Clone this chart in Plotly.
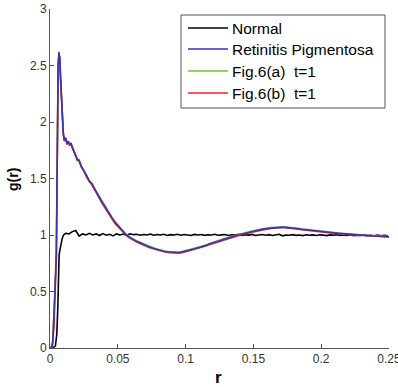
import plotly.graph_objects as go

# ---------------- data ----------------
series_names = ["Normal", "Retinitis Pigmentosa", "Fig.6(a)  t=1", "Fig.6(b)  t=1"]
series_colors = ["#000000", "#3333c8", "#66cc22", "#ff2020"]

x_ticks = [0, 0.05, 0.1, 0.15, 0.2, 0.25]
x_tick_labels = ["0", "0.05", "0.1", "0.15", "0.2", "0.25"]
y_ticks = [0, 0.5, 1, 1.5, 2, 2.5, 3]
y_tick_labels = ["0", "0.5", "1", "1.5", "2", "2.5", "3"]

normal_r = [0, 0.002, 0.004, 0.005, 0.0058, 0.0062, 0.0067, 0.0072, 0.008, 0.009, 0.010,
            0.0115, 0.014, 0.0165, 0.019, 0.0215, 0.024, 0.0265, 0.029, 0.0315, 0.034,
            0.0365, 0.039, 0.0415, 0.044, 0.0465, 0.049, 0.0515, 0.054, 0.0565, 0.059,
            0.0615, 0.064, 0.0665, 0.069, 0.0715, 0.074, 0.0765, 0.079, 0.0815, 0.084,
            0.0865, 0.089, 0.0915, 0.094, 0.0965, 0.099, 0.1015, 0.104, 0.1065, 0.109,
            0.1115, 0.114, 0.1165, 0.119, 0.1215, 0.124, 0.1265, 0.129, 0.1315, 0.134,
            0.1365, 0.139, 0.1415, 0.144, 0.1465, 0.149, 0.1515, 0.154, 0.1565, 0.159,
            0.1615, 0.164, 0.1665, 0.169, 0.1715, 0.174, 0.1765, 0.179, 0.1815, 0.184,
            0.1865, 0.189, 0.1915, 0.194, 0.1965, 0.199, 0.2015, 0.204, 0.2065, 0.209,
            0.2115, 0.214, 0.2165, 0.219, 0.2215, 0.224, 0.2265, 0.229, 0.2315, 0.234,
            0.2365, 0.239, 0.2415, 0.244, 0.2465, 0.249]
normal_g = [0, 0, 0.02, 0.12, 0.37, 0.65, 0.82, 0.86, 0.93, 0.97, 1.0,
            1.015, 1.01, 1.03, 1.04, 0.99, 1.01, 1.0, 1.015, 1.0, 1.01,
            0.995, 1.012, 0.998, 1.006, 0.992, 1.01, 1.0, 1.008, 0.997, 1.01,
            1.003, 1.006, 0.998, 1.004, 1.0, 1.008, 0.998, 1.004, 1.0, 1.006,
            0.996, 1.003, 1.0, 1.007, 0.998, 1.004, 1.001, 0.996, 1.005, 1.0,
            1.004, 0.997, 1.002, 1.0, 1.006, 0.998, 1.001, 1.004, 0.996, 1.002,
            1.0, 1.006, 0.997, 1.002, 0.999, 1.005, 0.996, 1.0, 1.004, 0.998,
            1.003, 0.996, 1.004, 1.006, 0.993, 1.0, 0.998, 1.003, 0.997, 1.0,
            0.995, 1.002, 0.998, 1.001, 0.996, 1.002, 0.999, 0.995, 1.001, 0.998,
            1.003, 0.996, 1.0, 0.997, 1.002, 0.995, 0.999, 0.996, 1.001, 0.995,
            0.998, 0.994, 0.999, 0.993, 0.997, 0.992]

rp_r = [0, 0.001, 0.002, 0.003, 0.0035, 0.004, 0.0047, 0.0052, 0.0056, 0.006,
        0.0066, 0.0072, 0.0078, 0.0085, 0.009, 0.0098, 0.0105, 0.0115, 0.0125, 0.0135,
        0.0145, 0.0155, 0.017, 0.0185, 0.02, 0.0215, 0.023, 0.025, 0.027, 0.029,
        0.031, 0.033, 0.0355, 0.038, 0.0405, 0.043, 0.0455, 0.048, 0.0505, 0.053,
        0.0555, 0.058, 0.0605, 0.063, 0.0655, 0.068, 0.0705, 0.073, 0.0755, 0.078,
        0.0805, 0.083, 0.0855, 0.088, 0.0905, 0.093, 0.0955, 0.098, 0.1005, 0.103,
        0.1055, 0.108, 0.1105, 0.113, 0.1155, 0.118, 0.1205, 0.123, 0.1255, 0.128,
        0.1305, 0.133, 0.1355, 0.138, 0.1405, 0.143, 0.1455, 0.148, 0.1505, 0.153,
        0.1555, 0.158, 0.1605, 0.163, 0.1655, 0.168, 0.1705, 0.173, 0.1755, 0.178,
        0.1805, 0.183, 0.1855, 0.188, 0.1905, 0.193, 0.1955, 0.198, 0.2005, 0.203,
        0.2055, 0.208, 0.2105, 0.213, 0.2155, 0.218, 0.2205, 0.223, 0.2255, 0.228,
        0.2305, 0.233, 0.2355, 0.238, 0.2405, 0.243, 0.2455, 0.248, 0.25]
rp_g = [0, 0.01, 0.05, 0.25, 0.45, 0.62, 0.85, 1.50, 2.15, 2.50,
        2.62, 2.56, 2.38, 2.20, 2.05, 1.90, 1.84, 1.86, 1.81, 1.83,
        1.80, 1.81, 1.76, 1.72, 1.67, 1.66, 1.61, 1.57, 1.52, 1.48,
        1.45, 1.40, 1.35, 1.30, 1.25, 1.20, 1.15, 1.11, 1.08, 1.04,
        1.01, 0.985, 0.965, 0.95, 0.935, 0.92, 0.91, 0.895, 0.885, 0.875,
        0.868, 0.858, 0.852, 0.848, 0.845, 0.846, 0.845, 0.85, 0.858, 0.866,
        0.874, 0.882, 0.89, 0.90, 0.91, 0.922, 0.932, 0.943, 0.953, 0.962,
        0.972, 0.98, 0.988, 0.997, 1.005, 1.013, 1.02, 1.028, 1.035, 1.042,
        1.048, 1.054, 1.058, 1.062, 1.066, 1.068, 1.069, 1.068, 1.066, 1.063,
        1.06, 1.056, 1.051, 1.047, 1.043, 1.039, 1.035, 1.031, 1.028, 1.025,
        1.022, 1.02, 1.017, 1.014, 1.011, 1.008, 1.005, 1.003, 1.0, 0.998,
        0.996, 0.994, 0.993, 0.991, 0.99, 0.989, 0.987, 0.986, 0.985]
fig6a_g = [0, 0.01, 0.06, 0.27, 0.47, 0.63, 0.86, 1.52, 2.16, 2.51,
           2.61, 2.55, 2.37, 2.21, 2.04, 1.91, 1.85, 1.85, 1.82, 1.82,
           1.81, 1.80, 1.77, 1.71, 1.68, 1.65, 1.62, 1.56, 1.53, 1.47,
           1.46, 1.41, 1.36, 1.30, 1.26, 1.20, 1.16, 1.12, 1.08, 1.045,
           1.015, 0.99, 0.97, 0.953, 0.94, 0.924, 0.914, 0.9, 0.89, 0.879,
           0.872, 0.862, 0.857, 0.852, 0.85, 0.85, 0.849, 0.855, 0.862, 0.87,
           0.879, 0.886, 0.895, 0.905, 0.914, 0.926, 0.936, 0.947, 0.957, 0.966,
           0.976, 0.985, 0.992, 1.001, 1.009, 1.017, 1.024, 1.032, 1.039, 1.046,
           1.052, 1.058, 1.062, 1.066, 1.07, 1.072, 1.073, 1.072, 1.07, 1.067,
           1.064, 1.06, 1.055, 1.051, 1.047, 1.043, 1.039, 1.035, 1.032, 1.028,
           1.025, 1.023, 1.02, 1.017, 1.014, 1.011, 1.008, 1.006, 1.003, 1.001,
           0.999, 0.997, 0.995, 0.993, 0.992, 0.991, 0.989, 0.988, 0.987]
fig6b_g = [0, 0.0, 0.03, 0.2, 0.4, 0.58, 0.8, 1.45, 2.12, 2.48,
           2.60, 2.57, 2.40, 2.19, 2.06, 1.89, 1.83, 1.86, 1.80, 1.83,
           1.79, 1.81, 1.75, 1.72, 1.66, 1.66, 1.60, 1.57, 1.51, 1.48,
           1.44, 1.40, 1.34, 1.29, 1.24, 1.19, 1.14, 1.10, 1.07, 1.035,
           1.005, 0.98, 0.96, 0.945, 0.93, 0.915, 0.905, 0.89, 0.88, 0.87,
           0.863, 0.853, 0.847, 0.843, 0.84, 0.841, 0.84, 0.845, 0.853, 0.861,
           0.869, 0.877, 0.885, 0.895, 0.905, 0.917, 0.927, 0.938, 0.948, 0.957,
           0.967, 0.975, 0.984, 0.993, 1.001, 1.009, 1.016, 1.024, 1.031, 1.038,
           1.044, 1.05, 1.054, 1.058, 1.062, 1.064, 1.065, 1.064, 1.062, 1.059,
           1.056, 1.052, 1.047, 1.043, 1.039, 1.035, 1.031, 1.027, 1.024, 1.021,
           1.018, 1.016, 1.013, 1.01, 1.008, 1.005, 1.002, 1.0, 0.997, 0.995,
           0.993, 0.991, 0.99, 0.988, 0.987, 0.986, 0.984, 0.983, 0.982]

assert len(normal_r) == len(normal_g)
assert len(rp_r) == len(rp_g) == len(fig6a_g) == len(fig6b_g)

# ---------------- figure ----------------
W, H = 398, 387
ML, MR, MT, MB = 50, 9, 9, 39
PW, PH = W - ML - MR, H - MT - MB
FONT = "Liberation Sans, Arial, sans-serif"


def px(x):
    return (x - ML) / PW


def py(y):
    return (H - MB - y) / PH


fig = go.Figure()
fig.add_trace(go.Scatter(x=normal_r, y=normal_g, mode="lines", name=series_names[0],
                         line=dict(color=series_colors[0], width=1.6)))
fig.add_trace(go.Scatter(x=rp_r, y=fig6a_g, mode="lines", name=series_names[2],
                         line=dict(color=series_colors[2], width=1.6)))
fig.add_trace(go.Scatter(x=rp_r, y=fig6b_g, mode="lines", name=series_names[3],
                         line=dict(color=series_colors[3], width=1.6)))
fig.add_trace(go.Scatter(x=rp_r, y=rp_g, mode="lines", name=series_names[1],
                         line=dict(color=series_colors[1], width=1.6)))

axis_common = dict(showline=True, linecolor="#555555", linewidth=1, ticks="inside",
                   ticklen=4, tickcolor="#555555", showgrid=False, zeroline=False,
                   mirror=False, ticklabeloverflow="allow", automargin=False,
                   tickfont=dict(family=FONT, size=12, color="#333333"))
fig.update_xaxes(range=[0, 0.25], tickvals=x_ticks, ticktext=x_tick_labels, **axis_common)
fig.update_yaxes(range=[0, 3], tickvals=y_ticks, ticktext=y_tick_labels, **axis_common)

# manual legend (MATLAB style)
legend_rows_y = [28, 49, 71, 93]
shapes = [dict(type="rect", xref="paper", yref="paper", x0=px(181), x1=px(385),
               y0=py(108), y1=py(15), fillcolor="white",
               line=dict(color="#555555", width=1), layer="above")]
annotations = []
for name, color, yy in zip(series_names, series_colors, legend_rows_y):
    shapes.append(dict(type="line", xref="paper", yref="paper", x0=px(188), x1=px(228),
                       y0=py(yy), y1=py(yy), line=dict(color=color, width=1.6), layer="above"))
    annotations.append(dict(text=name, xref="paper", yref="paper", x=px(230), y=py(yy),
                            xanchor="left", yanchor="middle", showarrow=False,
                            font=dict(family=FONT, size=15.5, color="black")))

annotations.append(dict(text="<b>g(r)</b>", xref="paper", yref="paper", x=px(13), y=py(180),
                        textangle=-90, showarrow=False, xanchor="center", yanchor="middle",
                        font=dict(family=FONT, size=14, color="black")))
annotations.append(dict(text="<b>r</b>", xref="paper", yref="paper", x=px(218), y=py(378),
                        showarrow=False, xanchor="center", yanchor="middle",
                        font=dict(family=FONT, size=17, color="black")))

fig.update_layout(width=W, height=H, margin=dict(l=ML, r=MR, t=MT, b=MB, autoexpand=False),
                  paper_bgcolor="white", plot_bgcolor="white", showlegend=False,
                  shapes=shapes, annotations=annotations)

fig.write_html("out.html", config={"displayModeBar": False},
               post_script="document.body.style.margin='0';document.body.style.overflow='hidden';")
